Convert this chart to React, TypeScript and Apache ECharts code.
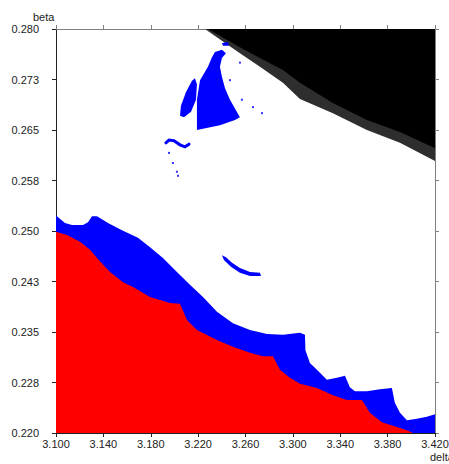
import React, { useEffect, useRef } from "react";
import * as echarts from "echarts";

// Axis tick labels (delta along x, beta along y)
const X_TICK_LABELS = ["3.100", "3.140", "3.180", "3.220", "3.260", "3.300", "3.340", "3.380", "3.420"];
const Y_TICK_LABELS = ["0.220", "0.228", "0.235", "0.243", "0.250", "0.258", "0.265", "0.273", "0.280"];
const X_MIN = 3.1;
const X_MAX = 3.42;
const X_STEP = 0.04;
const Y_MIN = 0.22;
const Y_MAX = 0.28;
const Y_STEP = 0.0075;

// Upper boundary of the red basin [delta, beta]
const RED_TOP: number[][] = [
  [3.1, 0.2499], [3.1093, 0.2494], [3.1203, 0.2484], [3.1287, 0.2472], [3.1346, 0.246],
  [3.1456, 0.2439], [3.1566, 0.2424], [3.165, 0.2417], [3.1794, 0.2402], [3.1962, 0.2393],
  [3.2047, 0.2392], [3.2106, 0.2368], [3.219, 0.2353], [3.2359, 0.2338], [3.2494, 0.2328],
  [3.2638, 0.2319], [3.2747, 0.2314], [3.2832, 0.2314], [3.2891, 0.2294], [3.2975, 0.2282],
  [3.306, 0.2273], [3.3203, 0.2267], [3.3338, 0.2256], [3.3456, 0.2249], [3.3583, 0.2249],
  [3.365, 0.223], [3.3752, 0.2216], [3.3878, 0.2209], [3.3963, 0.2204], [3.4013, 0.22],
];

// Upper boundary of the blue basin [delta, beta]
const BLUE_TOP: number[][] = [
  [3.1, 0.2523], [3.1076, 0.2512], [3.1135, 0.2509], [3.1228, 0.2509], [3.127, 0.2513],
  [3.1304, 0.2522], [3.1346, 0.2522], [3.1439, 0.2512], [3.1557, 0.2501], [3.1692, 0.249],
  [3.1794, 0.2476], [3.1903, 0.246], [3.2021, 0.2439], [3.2131, 0.242], [3.2241, 0.2402],
  [3.2359, 0.238], [3.2494, 0.2363], [3.2638, 0.2353], [3.2781, 0.2347], [3.2916, 0.2346],
  [3.306, 0.2349], [3.3102, 0.2346], [3.3106, 0.2323], [3.3144, 0.2304], [3.3203, 0.2294],
  [3.3287, 0.2279], [3.3372, 0.2282], [3.344, 0.2285], [3.3481, 0.2268], [3.3524, 0.2262],
  [3.3625, 0.2262], [3.3735, 0.2265], [3.3836, 0.2267], [3.3861, 0.2245], [3.3904, 0.223],
  [3.3963, 0.2219], [3.4047, 0.2221], [3.4131, 0.2224], [3.42, 0.2228],
];

// Black (divergent) region: solid edge and its speckled fringe
const BLACK_EDGE: number[][] = [
  [3.2283, 0.28], [3.2553, 0.2773], [3.2722, 0.2757], [3.2916, 0.2739], [3.306, 0.272],
  [3.3338, 0.269], [3.3625, 0.2665], [3.3904, 0.2647], [3.42, 0.2623],
];
const BLACK_FRINGE: number[][] = [
  [3.2258, 0.28], [3.2553, 0.2764], [3.2722, 0.2744], [3.2916, 0.272], [3.306, 0.2696],
  [3.3338, 0.2675], [3.3625, 0.265], [3.3904, 0.2631], [3.42, 0.2604],
];

// Blue islands inside the white basin
const SAIL: number[][] = [
  [3.2342, 0.2766], [3.2401, 0.2769], [3.2435, 0.2764], [3.2401, 0.2757], [3.2384, 0.2744],
  [3.2401, 0.2729], [3.2427, 0.2712], [3.2469, 0.2695], [3.2553, 0.2669], [3.2511, 0.2665],
  [3.2384, 0.2657], [3.219, 0.265], [3.219, 0.2695], [3.2216, 0.2724], [3.2283, 0.2744],
  [3.2317, 0.2758],
];
const BLADE: number[][] = [
  [3.2173, 0.2727], [3.219, 0.2718], [3.2182, 0.2695], [3.214, 0.2677], [3.2081, 0.2669],
  [3.2047, 0.2671], [3.2055, 0.2686], [3.2097, 0.2706], [3.2148, 0.2723],
];
const SPECK: number[][] = [
  [3.2401, 0.2779], [3.2452, 0.2781], [3.246, 0.2775], [3.241, 0.2775],
];
const SICKLE: number[][] = [
  [3.2401, 0.2464], [3.2435, 0.2461], [3.2486, 0.2453], [3.2553, 0.2445], [3.2638, 0.2439],
  [3.2722, 0.2438], [3.2731, 0.2433], [3.2638, 0.2433], [3.2553, 0.2438], [3.2477, 0.2447],
  [3.2418, 0.2457],
];
const TILDE: number[][] = [
  [3.1928, 0.2631], [3.1954, 0.2635], [3.1996, 0.2634], [3.2047, 0.2628], [3.2089, 0.2625],
  [3.2123, 0.2629],
];
const BLUE_DOTS: number[][] = [
  [3.1954, 0.2616], [3.1987, 0.2601], [3.2021, 0.2588], [3.203, 0.2582],
  [3.2553, 0.275], [3.2469, 0.2724], [3.257, 0.2695], [3.2663, 0.2684], [3.2739, 0.2675],
];

const RED = "#ff0000";
const BLUE = "#0000ff";

type Shape = { pts: number[][]; color: string; line?: number };

const SHAPES: Shape[] = [
  { pts: [...BLACK_FRINGE, [X_MAX, Y_MAX]], color: "#2e2e2e" },
  { pts: [...BLACK_EDGE, [X_MAX, Y_MAX]], color: "#000000" },
  { pts: [...BLUE_TOP, [X_MAX, Y_MIN], [X_MIN, Y_MIN]], color: BLUE },
  { pts: [...RED_TOP, [X_MIN, Y_MIN]], color: RED },
  { pts: SAIL, color: BLUE },
  { pts: BLADE, color: BLUE },
  { pts: SPECK, color: BLUE },
  { pts: SICKLE, color: BLUE },
  { pts: TILDE, color: BLUE, line: 3 },
];

// The axes run from zero so that ticks fall on the labelled values
const shift = (p: number[]) => [p[0] - X_MIN, p[1] - Y_MIN];

const FONT = "Liberation Sans, Arial, sans-serif";
const DARK = "#222222";
const GREY = "#808080";

export default function App() {
  const ref = useRef<HTMLDivElement>(null);

  useEffect(() => {
    if (!ref.current) return;
    const chart = echarts.init(ref.current, null, { renderer: "svg" });

    const xLabel = (v: number) => X_TICK_LABELS[Math.round(v / X_STEP)] ?? "";
    const yLabel = (v: number) => Y_TICK_LABELS[Math.round(v / Y_STEP)] ?? "";

    const xBase = {
      type: "value",
      min: 0,
      max: X_MAX - X_MIN,
      interval: X_STEP,
      splitLine: { show: false },
    };
    const yBase = {
      type: "value",
      min: 0,
      max: Y_MAX - Y_MIN,
      interval: Y_STEP,
      splitLine: { show: false },
    };

    chart.setOption({
      animation: false,
      backgroundColor: "#ffffff",
      grid: { left: 56, right: 35, top: 29, bottom: 31, containLabel: false },
      xAxis: [
        {
          ...xBase,
          position: "bottom",
          axisLine: { onZero: false, lineStyle: { color: DARK, width: 1 } },
          axisTick: { length: 4, lineStyle: { color: DARK } },
          axisLabel: { formatter: xLabel, margin: 5, color: DARK, fontSize: 11, fontFamily: FONT },
        },
        {
          ...xBase,
          position: "top",
          axisLine: { onZero: false, lineStyle: { color: GREY, width: 1 } },
          axisTick: { length: 4, lineStyle: { color: GREY } },
          axisLabel: { show: false },
        },
      ],
      yAxis: [
        {
          ...yBase,
          position: "left",
          axisLine: { onZero: false, lineStyle: { color: DARK, width: 1 } },
          axisTick: { length: 4, lineStyle: { color: DARK } },
          axisLabel: { formatter: yLabel, margin: 17, color: DARK, fontSize: 11, fontFamily: FONT },
        },
        {
          ...yBase,
          position: "right",
          axisLine: { onZero: false, lineStyle: { color: GREY, width: 1 } },
          axisTick: { length: 4, lineStyle: { color: GREY } },
          axisLabel: { show: false },
        },
      ],
      graphic: [
        {
          type: "text",
          left: 33,
          top: 11,
          style: { text: "beta", fill: DARK, font: `11px ${FONT}` },
        },
        {
          type: "text",
          left: 430,
          top: 451,
          style: { text: "delta", fill: DARK, font: `11px ${FONT}` },
        },
      ],
      series: [
        {
          type: "custom",
          coordinateSystem: "cartesian2d",
          xAxisIndex: 0,
          yAxisIndex: 0,
          clip: true,
          silent: true,
          data: SHAPES.map((s, i) => [...shift(s.pts[0]), i]),
          renderItem: (params: any, api: any) => {
            const s = SHAPES[params.dataIndex];
            const points = s.pts.map((p) => api.coord(shift(p)));
            if (s.line) {
              return {
                type: "polyline",
                shape: { points },
                style: { stroke: s.color, lineWidth: s.line, fill: null, lineCap: "round" },
              };
            }
            return { type: "polygon", shape: { points }, style: { fill: s.color } };
          },
        },
        {
          type: "scatter",
          xAxisIndex: 0,
          yAxisIndex: 0,
          symbol: "rect",
          symbolSize: 2,
          silent: true,
          itemStyle: { color: BLUE },
          data: BLUE_DOTS.map(shift),
        },
      ],
    });

    return () => chart.dispose();
  }, []);

  return (
    <div
      ref={ref}
      style={{ position: "fixed", left: 0, top: 0, width: 470, height: 464 }}
    />
  );
}
